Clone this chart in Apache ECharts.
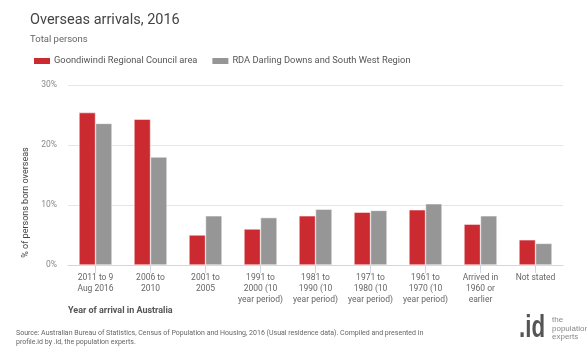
<!DOCTYPE html>
<html>
<head>
<meta charset="utf-8">
<script src="https://cdn.jsdelivr.net/npm/echarts@6/dist/echarts.min.js"></script>
<style>
  html, body { margin: 0; padding: 0; background: #fff; }
  #chart { width: 587px; height: 351px; }
</style>
</head>
<body>
<div id="chart"></div>
<script>
// Period of arrival categories
const categories = [
  '2011 to 9\nAug 2016',
  '2006 to\n2010',
  '2001 to\n2005',
  '1991 to\n2000 (10\nyear period)',
  '1981 to\n1990 (10\nyear period)',
  '1971 to\n1980 (10\nyear period)',
  '1961 to\n1970 (10\nyear period)',
  'Arrived in\n1960 or\nearlier',
  'Not stated'
];

// % of overseas-born persons by period of arrival
const goondiwindi = [25.4, 24.3, 5.0, 6.0, 8.2, 8.8, 9.2, 6.8, 4.2];
const rdaDDSW = [23.6, 18.0, 8.2, 7.9, 9.3, 9.1, 10.2, 8.2, 3.6];

const seriesNames = ['Goondiwindi Regional Council area', 'RDA Darling Downs and South West Region'];
const yTicks = [0, 10, 20, 30];

const chart = echarts.init(document.getElementById('chart'), null, { renderer: 'canvas' });

const font = 'Roboto, "Liberation Sans", Arial, sans-serif';

chart.setOption({
  backgroundColor: '#fff',
  animation: false,
  textStyle: { fontFamily: font },
  title: {
    text: 'Overseas arrivals, 2016',
    subtext: 'Total persons',
    left: 25,
    top: 8,
    itemGap: 7,
    textStyle: { fontSize: 14.5, fontWeight: 'normal', color: '#444', fontFamily: font },
    subtextStyle: { fontSize: 9.5, color: '#666', fontFamily: font }
  },
  legend: {
    left: 27,
    top: 51,
    itemWidth: 18,
    itemHeight: 8,
    itemGap: 13,
    icon: 'rect',
    textStyle: { fontSize: 9.3, color: '#555', fontFamily: font, padding: [0, 0, 0, -2] },
    data: seriesNames
  },
  grid: { left: 68, right: 24, top: 85, bottom: 86 },
  xAxis: {
    type: 'category',
    data: categories,
    axisLine: { lineStyle: { color: '#ccd6eb', width: 1 } },
    axisTick: { show: true, alignWithLabel: true, length: 8, lineStyle: { color: '#ccd6eb' } },
    axisLabel: { fontSize: 8.5, color: '#666', lineHeight: 11, margin: 7, interval: 0, fontFamily: font },
    name: 'Year of arrival in Australia',
    nameLocation: 'start',
    nameGap: 0,
    nameTextStyle: {
      fontSize: 9, fontWeight: 'bold', color: '#555', fontFamily: font,
      align: 'left', verticalAlign: 'top', padding: [41, 0, 0, 0]
    }
  },
  yAxis: {
    type: 'value',
    min: yTicks[0],
    max: yTicks[yTicks.length - 1],
    interval: 10,
    axisLabel: { formatter: '{value}%', fontSize: 8.5, color: '#888', margin: 11, fontFamily: font },
    axisLine: { show: false },
    axisTick: { show: false },
    splitLine: { lineStyle: { color: '#e6e6e6', width: 1 } },
    name: '% of persons born overseas',
    nameLocation: 'middle',
    nameGap: 23,
    nameRotate: 90,
    nameTextStyle: { fontSize: 9, color: '#444', fontFamily: font, padding: [0, 55, 0, 0] }
  },
  series: [
    {
      name: seriesNames[0],
      type: 'bar',
      data: goondiwindi,
      barGap: '0%',
      barCategoryGap: '40%',
      itemStyle: { color: '#cc2a31', borderColor: '#fff', borderWidth: 0.5 }
    },
    {
      name: seriesNames[1],
      type: 'bar',
      data: rdaDDSW,
      barGap: '0%',
      barCategoryGap: '40%',
      itemStyle: { color: '#969696', borderColor: '#fff', borderWidth: 0.5 }
    }
  ],
  graphic: [
    {
      type: 'text',
      left: 16,
      top: 328,
      style: {
        text: 'Source: Australian Bureau of Statistics, Census of Population and Housing, 2016 (Usual residence data). Compiled and presented in\nprofile.id by .id, the population experts.',
        fontSize: 7,
        lineHeight: 9.5,
        fill: '#666',
        fontFamily: font
      }
    },
    {
      type: 'text',
      left: 519,
      top: 313,
      scaleX: 0.72,
      style: {
        text: '.id',
        fontSize: 31,
        fontWeight: 'bold',
        fill: '#555',
        fontFamily: '"Liberation Sans", Arial, sans-serif'
      }
    },
    {
      type: 'text',
      left: 552,
      top: 316,
      style: {
        text: 'the\npopulation\nexperts',
        fontSize: 8,
        lineHeight: 8.5,
        fill: '#888',
        fontFamily: '"Liberation Sans Narrow", "Liberation Sans", Arial, sans-serif'
      }
    }
  ]
});
</script>
</body>
</html>
